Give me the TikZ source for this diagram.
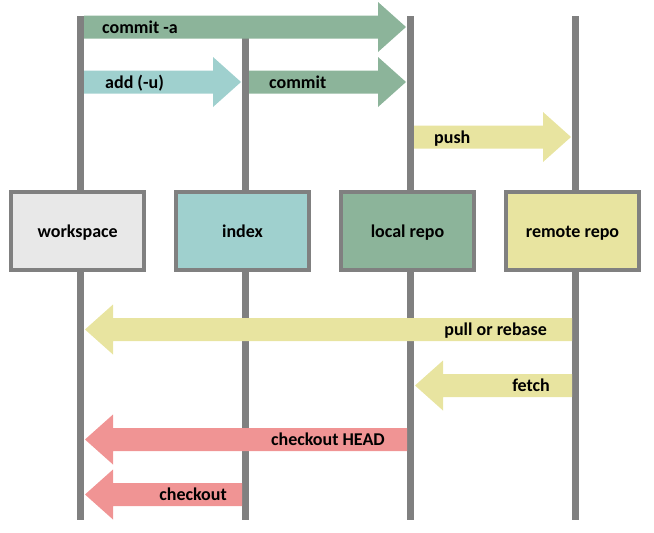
\documentclass[tikz,border=0pt]{standalone}
\usepackage{fontspec}
\setmainfont{Carlito}
\usetikzlibrary{calc}
\definecolor{linegray}{HTML}{808080}
\definecolor{wsfill}{HTML}{E8E8E8}
\definecolor{idxfill}{HTML}{9FD0CE}
\definecolor{locfill}{HTML}{8CB49A}
\definecolor{remfill}{HTML}{E8E4A0}
\definecolor{redarr}{HTML}{F09494}
\newcommand{\fatarrow}[4]{%
  \fill[#1] let \p1=(#2), \p2=(#3), \n1={\x2-(#4)} in
    (\x1,{\y1+11.5pt}) -- (\n1,{\y1+11.5pt}) -- (\n1,{\y1+25pt}) -- (\x2,\y1)
    -- (\n1,{\y1-25pt}) -- (\n1,{\y1-11.5pt}) -- (\x1,{\y1-11.5pt}) -- cycle;}
\tikzset{
  lifeline/.style={draw=linegray, line width=7pt},
  repobox/.style={draw=linegray, line width=4pt, minimum width=132.7pt, minimum height=78pt,
    inner sep=0pt, text height=13pt, text depth=0pt, font=\bfseries\fontsize{18pt}{20pt}\selectfont},
  lbl/.style={inner sep=0pt, font=\bfseries\fontsize{18pt}{20pt}\selectfont},
}
\begin{document}
\begin{tikzpicture}[x=1pt,y=-1pt]
\useasboundingbox (0,0) rectangle (654,533);
% lifelines
\coordinate (wsT) at (80.7,16);  \coordinate (wsB) at (80.7,520);
\coordinate (idT) at (245.5,16); \coordinate (idB) at (245.5,520);
\coordinate (lcT) at (410.5,16); \coordinate (lcB) at (410.5,520);
\coordinate (rmT) at (575.3,16); \coordinate (rmB) at (575.3,520);
\draw[lifeline] (wsT) -- (wsB);
\draw[lifeline] (idT) -- (idB);
\draw[lifeline] (lcT) -- (lcB);
\draw[lifeline] (rmT) -- (rmB);
% boxes
\node[repobox, fill=wsfill] (ws) at (77.7,231) {workspace};
\node[repobox, fill=idxfill] (idx) at (242.5,231) {index};
\node[repobox, fill=locfill] (loc) at (407.5,231) {local repo};
\node[repobox, fill=remfill] (rem) at (572.5,231) {remote repo};
% arrow end points
\coordinate (caS) at (84,27);   \coordinate (caE) at (406,27);
\coordinate (adS) at (84,82);   \coordinate (adE) at (241,82);
\coordinate (cmS) at (249,82);  \coordinate (cmE) at (406,82);
\coordinate (puS) at (414,137); \coordinate (puE) at (571,137);
\coordinate (prS) at (572,329.5); \coordinate (prE) at (85,329.5);
\coordinate (feS) at (572,385.5); \coordinate (feE) at (415,385.5);
\coordinate (chS) at (407,439.5); \coordinate (chE) at (85,439.5);
\coordinate (coS) at (242,494.5); \coordinate (coE) at (85,494.5);
% arrows
\fatarrow{locfill}{caS}{caE}{28pt}
\fatarrow{idxfill}{adS}{adE}{28pt}
\fatarrow{locfill}{cmS}{cmE}{28pt}
\fatarrow{remfill}{puS}{puE}{28pt}
\fatarrow{remfill}{prS}{prE}{-28pt}
\fatarrow{remfill}{feS}{feE}{-28pt}
\fatarrow{redarr}{chS}{chE}{-28pt}
\fatarrow{redarr}{coS}{coE}{-28pt}
% labels
\node[lbl, anchor=base west] (l-ca) at (102,33) {commit -a};
\node[lbl, anchor=base west] (l-ad) at (105,88) {add (-u)};
\node[lbl, anchor=base west] (l-cm) at (269,88) {commit};
\node[lbl, anchor=base west] (l-pu) at (434,143) {push};
\node[lbl, anchor=base east] (l-pr) at (547,335.5) {pull or rebase};
\node[lbl, anchor=base east] (l-fe) at (550,391) {fetch};
\node[lbl, anchor=base east] (l-ch) at (385,445.5) {checkout HEAD};
\node[lbl, anchor=base east] (l-co) at (227,500.5) {checkout};
\end{tikzpicture}
\end{document}
